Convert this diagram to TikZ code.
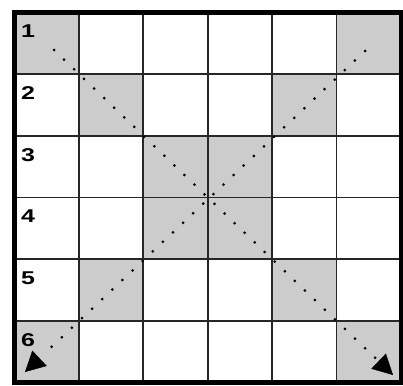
\documentclass[tikz,border=0pt]{standalone}
\usepackage{graphicx}
\usepackage{fontspec}
\setmainfont{Liberation Sans}
\usetikzlibrary{arrows.meta,calc}
\definecolor{cellgray}{RGB}{204,204,204}
\tikzset{
  graycell/.style={fill=cellgray},
  gridline/.style={line width=1.8pt, draw=black!85},
  outerline/.style={line width=4.5pt, draw=black},
  dotline/.style={line width=3pt, line cap=round, dash pattern=on 0pt off 13.9pt},
  rowlabel/.style={anchor=north west, inner sep=0pt, font=\fontsize{18.5}{18.5}\selectfont\bfseries},
  bigtip/.style={line width=0.4pt, -{Triangle[length=20pt,width=21pt]}}
}
\begin{document}
\begin{tikzpicture}[x=1pt,y=-1pt]
\useasboundingbox (0,0) rectangle (403,385);
\def\xa{14.5}\def\ya{12.5}\def\cw{64.417}\def\ch{61.667}
% gray cells
\foreach \c/\r in {1/1,6/1,2/2,5/2,3/3,4/3,3/4,4/4,2/5,5/5,1/6,6/6}{
  \fill[graycell] ({\xa+(\c-1)*\cw},{\ya+(\r-1)*\ch}) rectangle ({\xa+\c*\cw},{\ya+\r*\ch});
}
% inner grid lines
\foreach \i in {1,...,5}{
  \draw[gridline] ({\xa+\i*\cw},\ya) -- ({\xa+\i*\cw},{\ya+6*\ch});
  \draw[gridline] (\xa,{\ya+\i*\ch}) -- ({\xa+6*\cw},{\ya+\i*\ch});
}
% outer frame
\draw[outerline] (\xa,\ya) rectangle ({\xa+6*\cw},{\ya+6*\ch});
% row labels
\foreach \r in {1,...,6}{
  \node[rowlabel] (lab\r) at ({\xa+6.5},{\ya+(\r-1)*\ch+12.5}) {\scalebox{1.35}[1]{\r}};
}
% diagonals
\coordinate (s1) at (54,50);
\coordinate (e1) at (393,375);
\coordinate (s2) at (365,51);
\coordinate (e2) at (25,372);
\coordinate (b1) at ($(e1)!20pt!(s1)$);
\coordinate (b2) at ($(e2)!20pt!(s2)$);
\draw[dotline] (s1) -- ($(e1)!24pt!(s1)$);
\draw[dotline] (s2) -- ($(e2)!24pt!(s2)$);
\draw[bigtip] (b1) -- (e1);
\draw[bigtip] (b2) -- (e2);
\end{tikzpicture}
\end{document}
